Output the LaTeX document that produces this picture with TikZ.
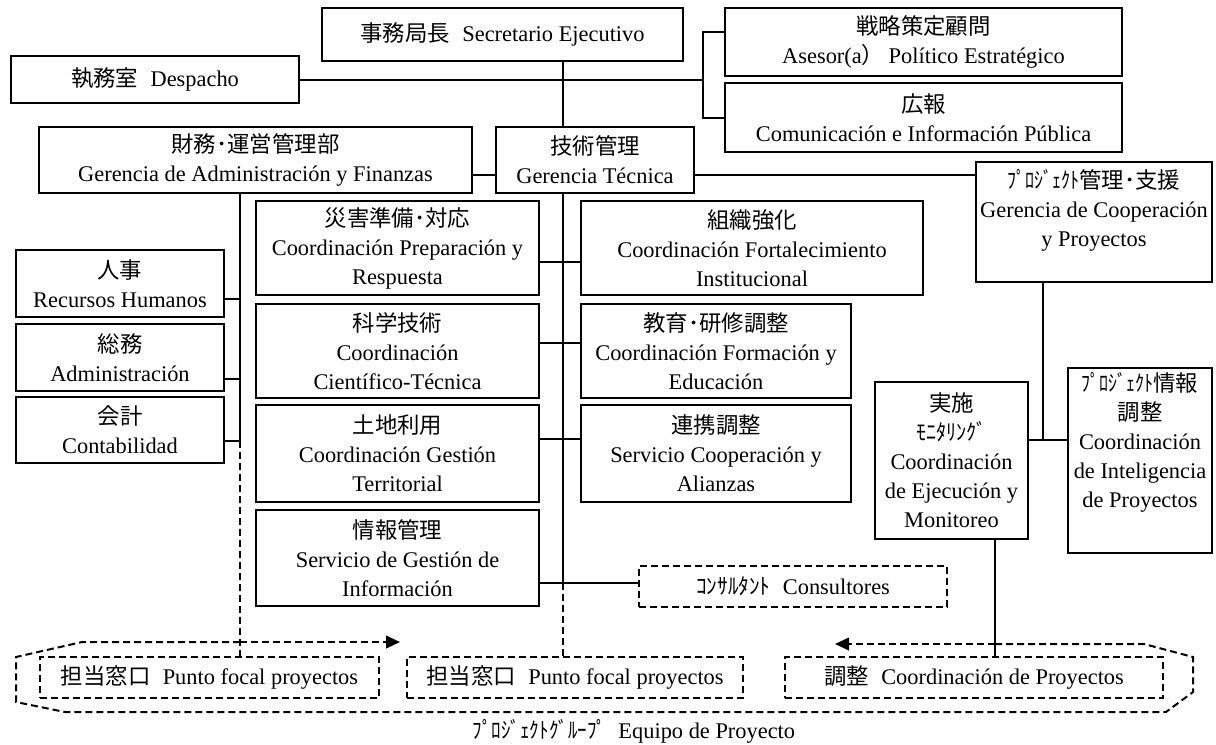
\documentclass[tikz,border=0pt]{standalone}
\usepackage{fontspec}
\setmainfont{Liberation Serif}
\newfontfamily\jpfont{Noto Sans CJK JP}
\usetikzlibrary{arrows.meta}
% Japanese text, and narrowed half-width katakana
\newcommand\J[1]{{\jpfont #1}}
\newcommand\K[2][0.8]{\scalebox{#1}[1]{\jpfont #2}}
\newcommand\gap{\hspace{0.55em}}
\begin{document}
\begin{tikzpicture}[x=0.75pt,y=-0.75pt,
  every node/.style={font=\fontsize{16.8pt}{21.8pt}\selectfont},
  wh/.style 2 args={minimum width=#1*0.75pt, minimum height=#2*0.75pt},
  box/.style={draw, line width=1.5pt, inner sep=0pt, outer sep=0pt, align=center},
  dbox/.style={box, dash pattern=on 5.25pt off 3pt},
  txt/.style={inner sep=0pt, align=center},
  conn/.style={line width=1.5pt},
  dconn/.style={line width=1.5pt, dash pattern=on 5.25pt off 3pt},
  tip/.style={-{Triangle[length=10.5pt,width=9.5pt]}}
]
\useasboundingbox (0,0) rectangle (1216,744);

% top level
\node[box, wh={361}{53}] (sec) at (502.5,34.5) {\J{事務局長}\gap Secretario Ejecutivo};
\node[box, wh={288}{47}] (desp) at (155,79.5) {\J{執務室}\gap Despacho};
\node[box, wh={397}{68}] (ases) at (923.5,42) {\J{戦略策定顧問}\\Asesor(a\J{）}\hspace{0.2em}Político Estratégico};
\node[box, wh={397}{69}] (com) at (923.5,117.5) {\J{広報}\\Comunicación e Información Pública};

% management level
\node[box, wh={433}{66}] (gaf) at (255.5,160) {\J{財務･運営管理部}\\Gerencia de Administración y Finanzas};
\node[box, wh={198}{66}] (gt) at (595,160) {\J{技術管理}\\Gerencia Técnica};
\node[box, wh={236}{120}] (gcp) at (1094,222) {};
\node[txt] (gcpt) at (1094,210.5) {\K{ﾌﾟﾛｼﾞｪｸﾄ}\J{管理･支援}\\Gerencia de Cooperación\\y Proyectos};

% administration units
\node[box, wh={208}{67}] (rh) at (120,283.5) {\J{人事}\\Recursos Humanos};
\node[box, wh={208}{67}] (adm) at (120,357.5) {\J{総務}\\Administración};
\node[box, wh={208}{66}] (cont) at (120,430) {\J{会計}\\Contabilidad};

% technical units
\node[box, wh={283}{94}] (prep) at (397.5,248) {\J{災害準備･対応}\\Coordinación Preparación y\\Respuesta};
\node[box, wh={283}{94}] (cient) at (397.5,351) {\J{科学技術}\\Coordinación\\Científico-Técnica};
\node[box, wh={283}{97}] (terr) at (397.5,453.5) {\J{土地利用}\\Coordinación Gestión\\Territorial};
\node[box, wh={283}{96}] (info) at (397.5,558) {\J{情報管理}\\Servicio de Gestión de\\Información};
\node[box, wh={342}{94}] (fort) at (752,248) {\J{組織強化}\\Coordinación Fortalecimiento\\Institucional};
\node[box, wh={270}{94}] (form) at (716,351) {\J{教育･研修調整}\\Coordinación Formación y\\Educación};
\node[box, wh={270}{97}] (alia) at (716,453.5) {\J{連携調整}\\Servicio Cooperación y\\Alianzas};
\node[dbox, wh={308}{41}] (cons) at (793,586.5) {\K[0.95]{ｺﾝｻﾙﾀﾝﾄ}\gap Consultores};

% project units
\node[box, wh={153}{157}] (ejec) at (951.5,460.5) {\J{実施}\\\K[0.9]{ﾓﾆﾀﾘﾝｸﾞ}\\Coordinación\\de Ejecución y\\Monitoreo};
\node[box, wh={144}{185}] (intel) at (1140,460.5) {};
\node[txt] (intelt) at (1140,442.5) {\K{ﾌﾟﾛｼﾞｪｸﾄ}\J{情報}\\\J{調整}\\Coordinación\\de Inteligencia\\de Proyectos};

% project group
\node[dbox, wh={339}{41}] (pf1) at (209.5,677.5) {\J{担当窓口}\gap Punto focal proyectos};
\node[dbox, wh={336}{41}] (pf2) at (575,677.5) {\J{担当窓口}\gap Punto focal proyectos};
\node[dbox, wh={378}{41}] (cp) at (974,677.5) {\J{調整}\gap Coordinación de Proyectos};
\node (grp) at (634,731) {\K[0.85]{ﾌﾟﾛｼﾞｪｸﾄｸﾞﾙｰﾌﾟ}\gap Equipo de Proyecto};

% staff connectors
\coordinate (jr) at (703,79);
\draw[conn] (desp.east) -- (desp.east -| jr);
\draw[conn] (ases.west |- 0,32) -| (jr) |- (com.west);

% central spine
\coordinate (spine) at (563,583);
\draw[conn] (sec.south -| spine) -- (gt.north -| spine);
\draw[conn] (gt.south -| spine) -- (spine);
\draw[dconn] (spine) -- (pf2.north -| spine);
\draw[conn] (gaf.east |- 0,175) -- (gt.west |- 0,175);
\draw[conn] (gt.east |- 0,175) -- (gcp.west |- 0,175);
\draw[conn] (prep.east |- 0,262) -- (fort.west |- 0,262);
\draw[conn] (cient.east |- 0,343) -- (form.west |- 0,343);
\draw[conn] (terr.east |- 0,439) -- (alia.west |- 0,439);
\draw[conn] (info.east |- 0,583) -- (cons.west |- 0,583);

% administration spine
\coordinate (lsp) at (240,441);
\draw[conn] (gaf.south -| lsp) -- (lsp);
\draw[conn] (rh.east |- 0,299) -- (lsp |- 0,299);
\draw[conn] (adm.east |- 0,379) -- (lsp |- 0,379);
\draw[conn] (cont.east |- lsp) -- (lsp);
\draw[dconn] (lsp) -- (pf1.north -| lsp);

% cooperation spine
\coordinate (rsp) at (1043,440);
\draw[conn] (gcp.south -| rsp) -- (rsp);
\draw[conn] (ejec.east |- rsp) -- (intel.west |- rsp);
\coordinate (rb) at (995,644);
\draw[conn] (ejec.south -| rb) -- (cp.north -| rb);

% project group outline with its two arrows
\coordinate (la) at (240,642);
\coordinate (lat) at (400,642);
\coordinate (rat) at (835,644);
\draw[dconn, tip] (la) -- (lat);
\draw[dconn, tip] (rb) -- (rat);
\draw[dconn] (la) -- (82,642) -- (16,657) -- (16,702) -- (65,712) -- (1166,712)
  -- (1193,692) -- (1193,657) -- (1144,644) -- (rb);
\end{tikzpicture}
\end{document}
